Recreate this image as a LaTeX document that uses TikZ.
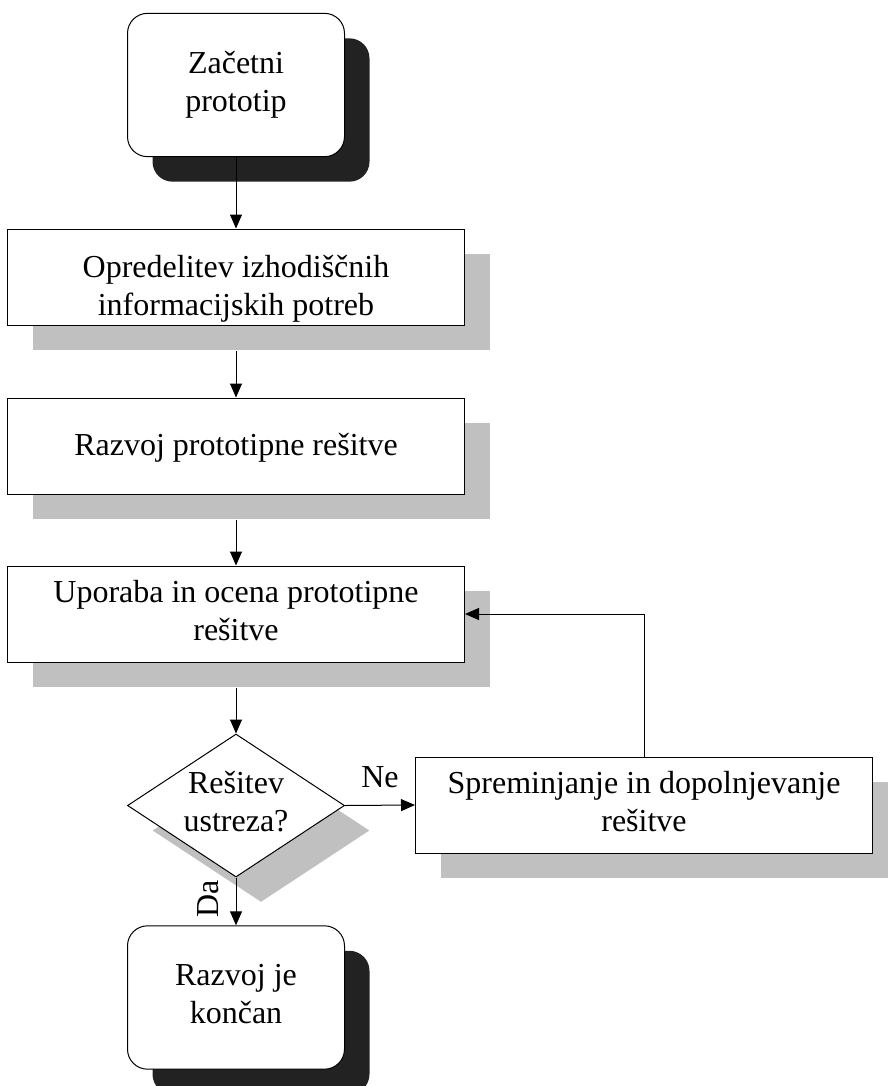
\documentclass[tikz,border=0pt]{standalone}
\usepackage{fontspec}
\setmainfont{Liberation Serif}
\usetikzlibrary{arrows.meta,shapes.geometric,shadows}
\definecolor{lightshadow}{HTML}{C0C0C0}
\definecolor{darkshadow}{HTML}{222222}
% struts that fix the first-line height and last-line depth of node texts
\newcommand\topstrut{\rule{0pt}{20pt}}
\newcommand\botstrut{\rule[-5.5pt]{0pt}{5.5pt}}
\begin{document}
\begin{tikzpicture}[x=0.75pt, y=-0.75pt,
  every node/.style={font=\fontsize{24}{28.5}\selectfont},
  shape text/.style={inner sep=0pt, align=center,
    execute at begin node=\topstrut, execute at end node=\botstrut},
  box/.style={shape text, draw, line width=0.75pt, fill=white,
    minimum width=342.75pt, minimum height=72pt,
    drop shadow={shadow xshift=18.75pt, shadow yshift=-18.75pt, fill=lightshadow, opacity=1}},
  term/.style={shape text, draw, line width=0.75pt, fill=white, rounded corners=15pt,
    minimum width=162.75pt, minimum height=107.5pt,
    drop shadow={shadow xshift=18.75pt, shadow yshift=-18.75pt, fill=darkshadow, opacity=1}},
  decision/.style={shape text, diamond, aspect=1.52, draw, line width=0.75pt, fill=white,
    minimum width=162.75pt, minimum height=107.25pt,
    drop shadow={shadow xshift=18.75pt, shadow yshift=-18.75pt, fill=lightshadow, opacity=1}},
  flow/.style={line width=0.75pt, -{Triangle[length=10.5pt,width=9pt]}},
  lbl/.style={anchor=base, inner sep=0pt}
]
\path[use as bounding box, clip] (0,0) rectangle (888,1086);

% process steps
\node[term] (start) at (236,85) {Začetni\\prototip};
\node[box] (b2) at (236,277) {\rule{0pt}{34pt}Opredelitev izhodiščnih\\informacijskih potreb};
\node[box] (b3) at (236,446) {Razvoj prototipne rešitve};
\node[box] (b4) at (236,614) {Uporaba in ocena prototipne\\rešitve};
\node[decision] (dec) at (236,805.5) {Rešitev\\ustreza?};
\node[box] (b5) at (644,805) {Spreminjanje in dopolnjevanje\\rešitve};
\node[term] (end) at (236,997.5) {Razvoj je\\končan};

% connectors
\draw[flow] (start.south) -- (b2.north);
\draw[flow] ([yshift=-18.75pt]b2.south) -- (b3.north);
\draw[flow] ([yshift=-18.75pt]b3.south) -- (b4.north);
\draw[flow] ([yshift=-18.75pt]b4.south) -- (dec.north);
\draw[flow] (dec.east) -- node[lbl, yshift=13.5pt] {Ne} (b5.west);
\draw[flow] (dec.south) -- node[lbl, pos=0.45, rotate=90, yshift=13.5pt] {Da} (end.north);
\draw[flow] (b5.north) |- (b4.east);
\end{tikzpicture}
\end{document}
